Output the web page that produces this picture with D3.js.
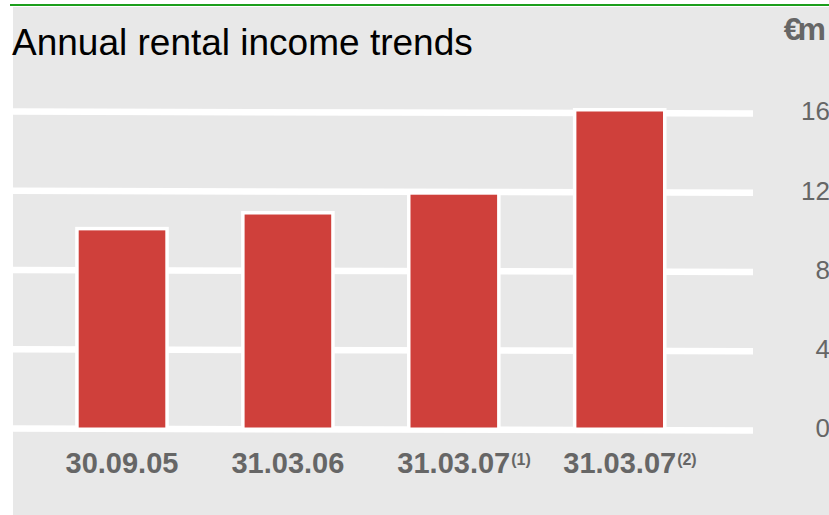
<!DOCTYPE html>
<html>
<head>
<meta charset="utf-8">
<script src="https://cdn.jsdelivr.net/npm/d3@7"></script>
<style>
  html, body { margin: 0; padding: 0; background: #ffffff; }
  svg { display: block; }
  text { font-family: "Liberation Sans", Arial, Helvetica, sans-serif; }
</style>
</head>
<body>
<svg id="chart" width="829" height="515"></svg>
<script>
// Annual rental income (EUR millions) by reporting date
const categories = ["30.09.05", "31.03.06", "31.03.07", "31.03.07"];
const footnotes = ["", "", "(1)", "(2)"];
const income = [10.0, 10.8, 11.8, 16.0];
const yTicks = [0, 4, 8, 12, 16];

const W = 829, H = 515;
const svg = d3.select("#chart");

// panel background and top rule
svg.append("rect").attr("x", 13).attr("y", 7).attr("width", W - 13).attr("height", H - 7)
  .attr("fill", "#e8e8e8");
svg.append("line").attr("x1", 10).attr("x2", W).attr("y1", 5).attr("y2", 5)
  .attr("stroke", "#1c9e1c").attr("stroke-width", 2);

svg.append("text").attr("x", 12).attr("y", 55)
  .attr("font-size", 37).attr("fill", "#000")
  .text("Annual rental income trends");

svg.append("text").attr("x", 822).attr("y", 40).attr("text-anchor", "end")
  .attr("font-size", 32).attr("font-weight", "bold").attr("letter-spacing", -4)
  .attr("fill", "#666").text("€m");

const x = d3.scaleBand().domain(d3.range(categories.length))
  .range([78.7, 663]).paddingInner(0.478).paddingOuter(0);
const y = d3.scaleLinear().domain([0, 16]).range([428.5, 111.5]);

// gridlines, running slightly downhill to the right
const gridX0 = 13, gridX1 = 753;
svg.append("g").selectAll("line").data(yTicks).join("line")
  .attr("x1", gridX0).attr("x2", gridX1)
  .attr("y1", d => y(d)).attr("y2", d => y(d) + 2)
  .attr("stroke", "#ffffff").attr("stroke-width", 6.5);

// value axis on the right, labels only
const axis = d3.axisRight(y).tickValues(yTicks).tickSize(0).tickPadding(0);
const ag = svg.append("g").attr("transform", "translate(800,0)").call(axis);
ag.select(".domain").remove();
ag.selectAll("text")
  .attr("x", 30).attr("text-anchor", "end")
  .attr("font-family", "Liberation Sans, Arial, sans-serif")
  .attr("font-size", 26).attr("fill", "#666");

// bars with a white frame
const border = 3.5;
const bars = svg.append("g").selectAll("g").data(income).join("g");
bars.append("rect")
  .attr("x", (d, i) => x(i) - border)
  .attr("width", x.bandwidth() + 2 * border)
  .attr("y", d => y(d) - border)
  .attr("height", d => y(0) - y(d) + border - 1)
  .attr("fill", "#ffffff");
bars.append("rect")
  .attr("x", (d, i) => x(i))
  .attr("width", x.bandwidth())
  .attr("y", d => y(d))
  .attr("height", d => y(0) - y(d) - 1)
  .attr("fill", "#cf403b");

// category labels with footnote markers
const labels = svg.append("g").selectAll("g").data(categories).join("g");
labels.each(function (c, i) {
  const g = d3.select(this);
  const cx = x(i) + x.bandwidth() / 2;
  const t = g.append("text").attr("x", cx).attr("y", 473)
    .attr("text-anchor", "middle").attr("font-size", 29).attr("font-weight", "bold")
    .attr("fill", "#666").text(c);
  if (footnotes[i]) {
    const w = t.node().getComputedTextLength();
    g.append("text").attr("x", cx + w / 2 + 1).attr("y", 465)
      .attr("font-size", 16).attr("font-weight", "bold").attr("fill", "#666")
      .text(footnotes[i]);
  }
});
</script>
</body>
</html>
